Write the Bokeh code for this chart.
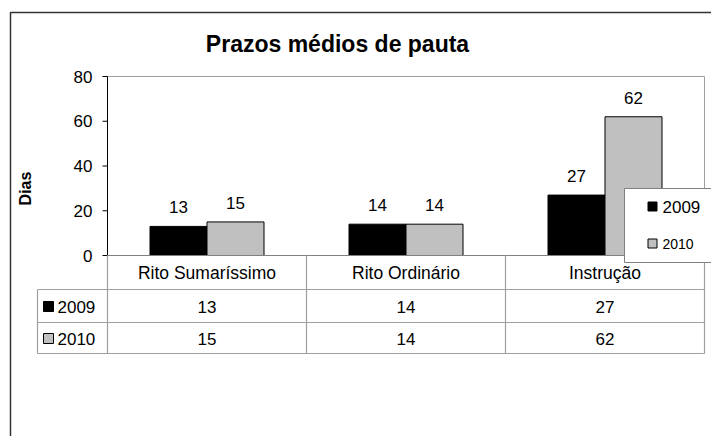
import math
from bokeh.plotting import figure
from bokeh.models import Range1d
from bokeh.core.properties import value
from bokeh.embed import file_html
from bokeh.resources import INLINE

# ---- data ----
categories = ["Rito Sumaríssimo", "Rito Ordinário", "Instrução"]
series = ["2009", "2010"]
values_2009 = [13, 14, 27]
values_2010 = [15, 14, 62]
series_colors = ["#000000", "#c0c0c0"]
y_ticks = [0, 20, 40, 60, 80]
title_text = "Prazos médios de pauta"
y_label = "Dias"

# ---- layout (page pixel geometry -> data coords) ----
W, H = 711, 436
OFF = 0
PX_X0, PX_PER_CAT = 107.0, 199.0
PX_Y0, PX_PER_UNIT = 255.0, 179.0 / 80.0


def dx(px):
    return (px - PX_X0) / PX_PER_CAT


def dy(py):
    return (PX_Y0 - py) / PX_PER_UNIT


FONT = value("Liberation Sans")

p = figure(width=W, height=H, output_backend="svg", toolbar_location=None,
           x_range=Range1d(dx(OFF), dx(OFF + W)),
           y_range=Range1d(dy(OFF + H), dy(OFF)),
           min_border=0)
p.axis.visible = False
p.grid.visible = False
p.outline_line_color = None
p.background_fill_color = "white"
p.border_fill_color = "white"

n = len(categories)
ymax = y_ticks[-1]

# outer chart frame
p.line([dx(10), dx(10), dx(730)], [dy(450), dy(12), dy(12)], line_color="#333333", line_width=1.5)

# plot area border (top/right gray)
p.line([0, n, n], [ymax, ymax, 0], line_color="#a0a0a0", line_width=1)

# bars
bar_w = 57.0 / PX_PER_CAT
for s, (vals, col) in enumerate(zip([values_2009, values_2010], series_colors)):
    xs = [i + 0.5 + (s - 0.5) * bar_w for i in range(n)]
    p.vbar(x=xs, top=vals, bottom=0, width=bar_w, fill_color=col, line_color="#000000", line_width=1)
    p.text(x=xs, y=vals, text=[str(v) for v in vals], text_align="center", text_baseline="middle",
           y_offset=-19, text_font=FONT, text_font_size=value("17px"), text_color="#000000")

# y axis
p.segment(x0=[0], y0=[0], x1=[0], y1=[ymax], line_color="#000000", line_width=1)
p.segment(x0=[dx(102)] * len(y_ticks), y0=y_ticks, x1=[0] * len(y_ticks), y1=y_ticks,
          line_color="#000000", line_width=1)
p.text(x=[dx(92)] * len(y_ticks), y=y_ticks, text=[str(t) for t in y_ticks], text_align="right",
       text_baseline="middle", text_font=FONT, text_font_size=value("17px"), text_color="#000000")

# x baseline
p.segment(x0=[0], y0=[0], x1=[n], y1=[0], line_color="#808080", line_width=1)

# data table
grid_col = "#a0a0a0"
row_lines = [dy(289), dy(322), dy(353)]
p.segment(x0=[dx(37)] * 3, y0=row_lines, x1=[n] * 3, y1=row_lines, line_color=grid_col, line_width=1.2)
p.segment(x0=list(range(n + 1)), y0=[0] * (n + 1), x1=list(range(n + 1)), y1=[dy(353)] * (n + 1),
          line_color=grid_col, line_width=1.2)
p.segment(x0=[dx(37)], y0=[dy(289)], x1=[dx(37)], y1=[dy(353)], line_color=grid_col, line_width=1.2)

cx = [i + 0.5 for i in range(n)]
p.text(x=cx, y=[dy(272)] * n, text=categories, text_align="center", text_baseline="middle",
       text_font=FONT, text_font_size=value("17.5px"), text_color="#000000")
row_y = [dy(306), dy(338)]
for ry, vals, name, col in zip(row_y, [values_2009, values_2010], series, series_colors):
    p.text(x=cx, y=[ry] * n, text=[str(v) for v in vals], text_align="center", text_baseline="middle",
           text_font=FONT, text_font_size=value("17px"), text_color="#000000")
    p.scatter(x=[dx(48)], y=[ry], marker="square", size=10, fill_color=col, line_color="#000000", line_width=1)
    p.text(x=[dx(57)], y=[ry], text=[name], text_align="left", text_baseline="middle",
           text_font=FONT, text_font_size=value("17px"), text_color="#000000")

# legend box
p.quad(left=[dx(624)], right=[dx(730)], bottom=[dy(262)], top=[dy(188)], fill_color="white",
       line_color="#808080", line_width=1)
leg_y = [dy(206), dy(243)]
leg_sizes = ["17px", "14px"]
for ly, name, col, fs in zip(leg_y, series, series_colors, leg_sizes):
    p.scatter(x=[dx(652)], y=[ly], marker="square", size=9, fill_color=col, line_color="#000000", line_width=1)
    p.text(x=[dx(662)], y=[ly], text=[name], text_align="left", text_baseline="middle",
           text_font=FONT, text_font_size=value(fs), text_color="#000000")

# title and axis label
p.text(x=[dx(337)], y=[dy(43)], text=[title_text], text_align="center", text_baseline="middle",
       text_font=FONT, text_font_size=value("23px"), text_font_style="bold", text_color="#000000")
p.text(x=[dx(25)], y=[dy(188)], text=[y_label], angle=math.pi / 2, text_align="center",
       text_baseline="middle", text_font=FONT, text_font_size=value("16px"), text_font_style="bold",
       text_color="#000000")

open("out.html", "w").write(file_html(p, INLINE))
